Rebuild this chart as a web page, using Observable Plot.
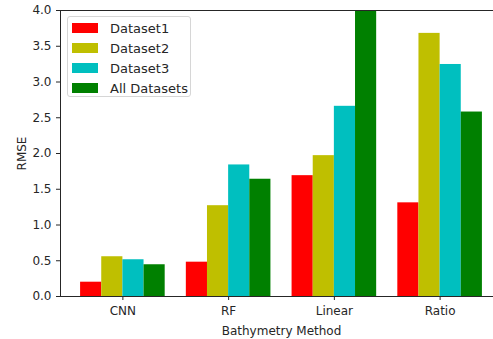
<!DOCTYPE html>
<html>
<head>
<meta charset="utf-8">
<script src="https://cdn.jsdelivr.net/npm/d3@7"></script>
<script src="https://cdn.jsdelivr.net/npm/@observablehq/plot@0.6"></script>
<style>
  html, body { margin: 0; padding: 0; background: #fff; overflow: hidden; }
  #wrap { position: relative; width: 493px; height: 339px; overflow: hidden; }
  #wrap svg { max-width: none !important; display: block; }
  #legend { position: absolute; left: 67px; top: 16px; width: 124px; height: 81px;
    border: 1px solid #d6d6d6; border-radius: 3px; background: rgba(255,255,255,0.85);
    font-family: "DejaVu Sans", sans-serif; font-size: 13px; color: #262626; box-sizing: border-box; }
  .item { position: absolute; left: 4px; height: 20px; display: flex; align-items: center; }
  .sw { width: 26px; height: 10px; margin-right: 12px; }
</style>
</head>
<body>
<div id="wrap"><div id="legend"></div></div>
<script>
const methods = ["CNN", "RF", "Linear", "Ratio"];
const series = ["Dataset1", "Dataset2", "Dataset3", "All Datasets"];
const colors = ["#ff0000", "#bfbf00", "#00bfbf", "#008000"];
const dataset1 = [0.20, 0.48, 1.69, 1.31];
const dataset2 = [0.556, 1.27, 1.97, 3.68];
const dataset3 = [0.514, 1.84, 2.66, 3.245];
const allDatasets = [0.444, 1.64, 4.4, 2.58];
const yTicks = [0, 0.5, 1.0, 1.5, 2.0, 2.5, 3.0, 3.5, 4.0];

const barWidth = 0.2;
const seriesValues = [dataset1, dataset2, dataset3, allDatasets];
const rows = [];
methods.forEach((m, i) => series.forEach((s, j) => {
  const x1 = i + (j - series.length / 2) * barWidth;
  rows.push({method: m, series: s, value: seriesValues[j][i], x1, x2: x1 + barWidth});
}));
const xMin = -series.length / 2 * barWidth, xMax = methods.length - 1 + series.length / 2 * barWidth;
const pad = (xMax - xMin) * 0.05;

const font = "DejaVu Sans, sans-serif";
const chart = Plot.plot({
  width: 503,
  height: 339,
  marginLeft: 60,
  marginRight: 1,
  marginTop: 10,
  marginBottom: 43,
  style: {fontFamily: font, fontSize: "12px", color: "#262626", background: "white", overflow: "visible", maxWidth: "none"},
  x: {domain: [xMin - pad, xMax + pad]},
  y: {domain: [0, 4], ticks: yTicks},
  color: {domain: series, range: colors},
  marks: [
    Plot.rectY(rows, {x1: "x1", x2: "x2", y: "value", fill: "series", inset: 0, clip: true}),
    Plot.axisY({ticks: yTicks, tickFormat: d3.format(".1f"), tickSize: 4, tickPadding: 5, label: "RMSE", labelAnchor: "center", labelArrow: "none", labelOffset: 43, fontSize: 12}),
    Plot.axisX({ticks: d3.range(methods.length), tickFormat: (i) => methods[i], tickSize: 4, tickPadding: 6, label: "Bathymetry Method", labelAnchor: "center", labelArrow: "none", labelOffset: 38, fontSize: 12}),
    Plot.frame({stroke: "#262626", strokeWidth: 1})
  ]
});
const wrap = document.getElementById("wrap");
wrap.insertBefore(chart, wrap.firstChild);

const legend = document.getElementById("legend");
series.forEach((s, i) => {
  const it = document.createElement("div");
  it.className = "item";
  it.style.top = (1 + i * 20) + "px";
  it.innerHTML = `<div class="sw" style="background:${colors[i]}"></div><span>${s}</span>`;
  legend.appendChild(it);
});
</script>
</body>
</html>
